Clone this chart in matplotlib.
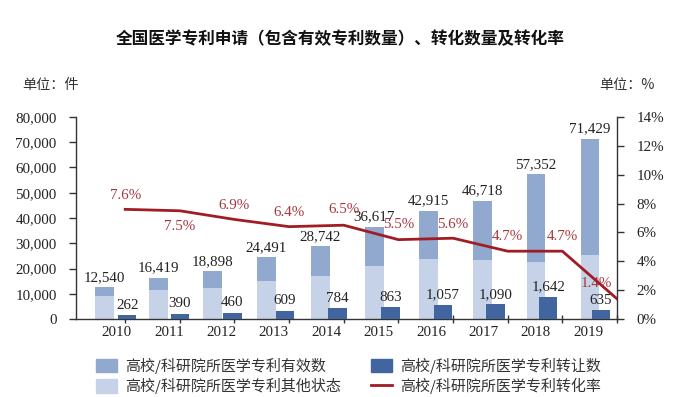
import matplotlib
matplotlib.use("Agg")
import matplotlib.pyplot as plt
import numpy as np
from matplotlib.patches import Patch
from matplotlib.lines import Line2D
from matplotlib.ticker import FuncFormatter, PercentFormatter

# ---------------- data ----------------
years = ["2010", "2011", "2012", "2013", "2014", "2015", "2016", "2017", "2018", "2019"]
totals = [12540, 16419, 18898, 24491, 28742, 36617, 42915, 46718, 57352, 71429]
other_state = [9100, 11400, 12400, 15000, 16850, 21000, 23700, 23400, 22650, 25200]
valid_part = [3440, 5019, 6498, 9491, 11892, 15617, 19215, 23318, 34702, 46229]
transfers = [262, 390, 460, 609, 784, 863, 1057, 1090, 1642, 635]
rates = [0.076, 0.075, 0.069, 0.064, 0.065, 0.055, 0.056, 0.047, 0.047, 0.014]
rate_labels = ["7.6%", "7.5%", "6.9%", "6.4%", "6.5%", "5.5%", "5.6%", "4.7%", "4.7%", "1.4%"]

title = "全国医学专利申请（包含有效专利数量）、转化数量及转化率"
leg_valid = "高校/科研院所医学专利有效数"
leg_other = "高校/科研院所医学专利其他状态"
leg_transfer = "高校/科研院所医学专利转让数"
leg_rate = "高校/科研院所医学专利转化率"

# ---------------- style ----------------
C_VALID = "#92a9cf"
C_OTHER = "#c6d2e7"
C_DARK = "#41659f"
C_LINE = "#a11d25"
C_PCT = "#a5373c"
C_TXT = "#222222"
SERIF = ["Liberation Serif", "DejaVu Serif"]
CJK = ["Noto Sans CJK SC", "DejaVu Sans"]
FS = 10.8

W, H = 694, 397
fig = plt.figure(figsize=(W / 100, H / 100), dpi=100)
L, R, T, B = 76, 617, 117, 319
ax = fig.add_axes([L / W, 1 - B / H, (R - L) / W, (B - T) / H])
ax3 = ax.twinx()   # hidden scale for transfer bars
ax2 = ax.twinx()   # right percent axis with line

n = len(years)
idx = np.arange(n)
x_wide = -0.375 + 0.987 * idx
x_dark = 0.037 + 0.963 * idx
x_lab = -0.152 + 0.958 * idx
x_line = idx.astype(float)

ax.set_xlim(-0.9, 9.0)
ax.set_ylim(0, 80000)
ax3.set_ylim(0, 15000)
ax2.set_ylim(0, 0.14)

# wide stacked bars
ax.bar(x_wide, other_state, width=0.34, color=C_OTHER, zorder=2)
ax.bar(x_wide, valid_part, bottom=other_state, width=0.34, color=C_VALID, zorder=2)
for xw, tot in zip(x_wide, totals):
    ax.annotate(f"{tot:,}", (xw, tot), xytext=(0, 2.5), textcoords="offset points",
                ha="center", va="bottom", fontsize=FS, family=SERIF, color=C_TXT)

# dark transfer bars
ax3.bar(x_dark, transfers, width=0.34, color=C_DARK, zorder=2)
for xd, v in zip(x_dark, transfers):
    ax3.annotate(f"{v:,}", (xd, v), xytext=(0, 2.5), textcoords="offset points",
                 ha="center", va="bottom", fontsize=FS, family=SERIF, color=C_TXT)
ax3.axis("off")

# rate line
ax2.plot(x_line, rates, color=C_LINE, lw=2.0, zorder=5)
offsets = [(0, 10), (0, -11), (0, 10), (0, 10), (0, 11.5), (0, 11), (0, 10), (0, 10.5), (0, 10.5), (-15, 11)]
for xl, r, lab, off in zip(x_line, rates, rate_labels, offsets):
    ax2.annotate(lab, (xl, r), xytext=off, textcoords="offset points",
                 ha="center", va="center", fontsize=FS, family=SERIF, color=C_PCT)

# axes styling
for a in (ax, ax2):
    a.spines["top"].set_visible(False)
    for s in ("left", "right", "bottom"):
        a.spines[s].set_color("#333333")
        a.spines[s].set_linewidth(1.0)
ax.spines["right"].set_visible(False)
ax2.spines["left"].set_visible(False)
ax2.spines["bottom"].set_visible(False)

ax.set_yticks(np.arange(0, 80001, 10000))
ax.yaxis.set_major_formatter(FuncFormatter(lambda v, p: f"{int(v):,}"))
ax.tick_params(axis="y", direction="out", length=5, width=1, color="#333333", pad=9,
               labelsize=FS, labelcolor=C_TXT)
ax2.set_yticks(np.arange(0, 0.1401, 0.02))
ax2.yaxis.set_major_formatter(PercentFormatter(1.0, decimals=0))
ax2.tick_params(axis="y", direction="out", length=5, width=1, color="#333333", pad=9,
                labelsize=FS, labelcolor=C_TXT)

ax.set_xticks(x_line)
ax.set_xticklabels([])
ax.set_xticks(x_lab, years, minor=True)
ax.tick_params(axis="x", which="major", direction="inout", length=6, width=1, color="#333333")
ax.tick_params(axis="x", which="minor", length=0, pad=5, labelsize=FS, labelcolor=C_TXT)

for lab in ax.get_yticklabels() + ax2.get_yticklabels() + ax.get_xticklabels(minor=True):
    lab.set_family(SERIF)

# texts
fig.text(340 / W, 1 - 39 / H, title, ha="center", va="center", fontsize=12,
         fontweight="bold", family=CJK, color="#111111")
fig.text(22 / W, 1 - 85 / H, "单位：件", ha="left", va="center", fontsize=10.2,
         family=CJK, color="#333333")
fig.text(599 / W, 1 - 85 / H, "单位：%", ha="left", va="center", fontsize=10.2,
         family=CJK, color="#333333")

# legend
handles = [Patch(color=C_VALID), Patch(color=C_OTHER), Patch(color=C_DARK),
           Line2D([0], [0], color=C_LINE, lw=2.0)]
labels = [leg_valid, leg_other, leg_transfer, leg_rate]
fig.legend(handles, labels, ncol=2, loc="upper left",
           bbox_to_anchor=(88 / W, 1 - 350 / H), frameon=False, borderpad=0,
           handlelength=1.45, handleheight=1.0, handletextpad=0.5, columnspacing=2.0,
           labelspacing=0.3, prop={"family": CJK, "size": 10.8}, labelcolor="#333333")

fig.savefig("out.png", dpi=100)
